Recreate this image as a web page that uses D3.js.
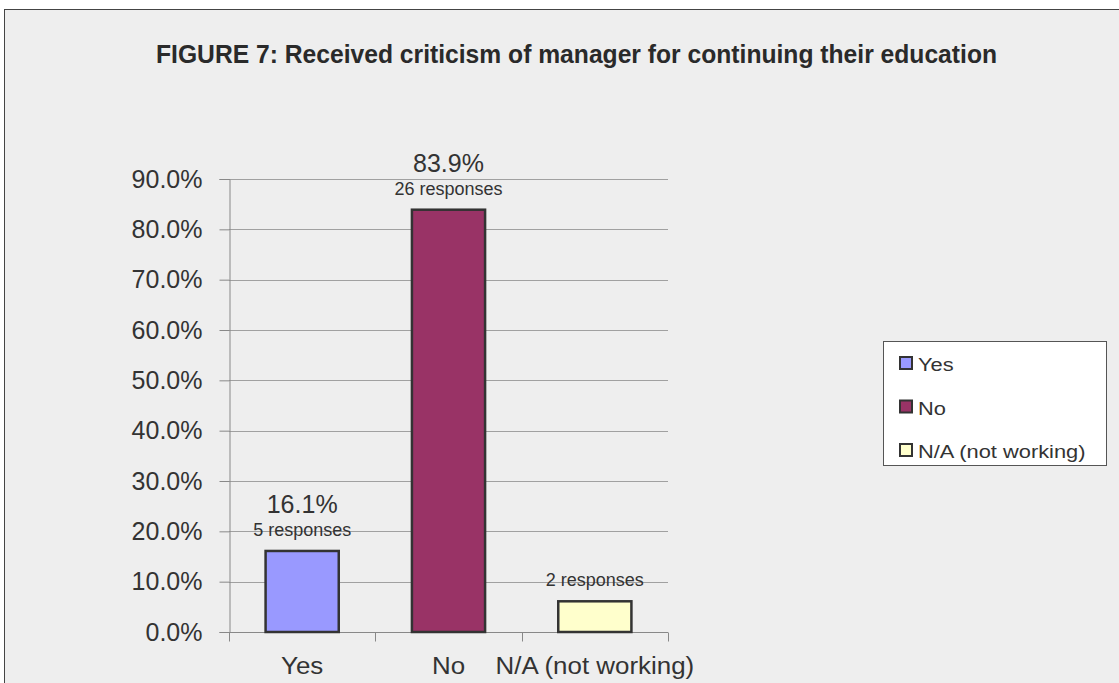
<!DOCTYPE html>
<html>
<head>
<meta charset="utf-8">
<script src="https://cdn.jsdelivr.net/npm/d3@7"></script>
<style>
  html, body { margin: 0; padding: 0; background: #fff; }
  svg { display: block; font-family: "Liberation Sans", Arial, sans-serif; }
</style>
</head>
<body>
<svg id="chart" width="1119" height="683"></svg>
<script>
// Survey answers: share of respondents and response counts
const categories = ["Yes", "No", "N/A (not working)"];
const percentValues = [16.1, 83.9, 6.1];
const percentLabels = ["16.1%", "83.9%", null];
const responseLabels = ["5 responses", "26 responses", "2 responses"];
const barColors = ["#9999ff", "#993366", "#ffffcc"];
const yTicks = [0, 10, 20, 30, 40, 50, 60, 70, 80, 90];
const title = "FIGURE 7: Received criticism of manager for continuing their education";

const svg = d3.select("#chart");
const textColor = "#333";

// chart frame
svg.append("rect")
  .attr("x", 4.5).attr("y", 9.5)
  .attr("width", 1130).attr("height", 690)
  .attr("fill", "#eeeeee")
  .attr("stroke", "#444").attr("stroke-width", 1);

svg.append("text")
  .attr("x", 576.5).attr("y", 63)
  .attr("text-anchor", "middle")
  .attr("font-size", 26)
  .attr("font-weight", "bold")
  .attr("textLength", 841)
  .attr("lengthAdjust", "spacingAndGlyphs")
  .attr("fill", "#2a2a2a")
  .text(title);

const plot = { left: 229, right: 668, top: 179, bottom: 632 };

const x = d3.scaleBand()
  .domain(categories)
  .range([plot.left, plot.right])
  .paddingInner(0.5)
  .paddingOuter(0.25);

const xEdges = d3.scaleBand().domain(categories).range([plot.left, plot.right]);

const y = d3.scaleLinear().domain([0, 90]).range([plot.bottom, plot.top]);

// horizontal gridlines
svg.append("g")
  .selectAll("line")
  .data(yTicks.slice(1))
  .join("line")
  .attr("x1", plot.left).attr("x2", plot.right)
  .attr("y1", d => Math.round(y(d)) + 0.5).attr("y2", d => Math.round(y(d)) + 0.5)
  .attr("stroke", "#a0a0a0").attr("stroke-width", 1);

// y axis
const yAxis = svg.append("g")
  .attr("transform", `translate(${plot.left + 0.5},0)`)
  .call(d3.axisLeft(y).tickValues(yTicks).tickFormat(d => d.toFixed(1) + "%").tickSize(10).tickPadding(17));
yAxis.select(".domain").attr("stroke", "#888");
yAxis.selectAll(".tick line").attr("stroke", "#888");
yAxis.selectAll(".tick text")
  .attr("font-size", 25).attr("fill", textColor)
  .attr("font-family", "'Liberation Sans', Arial, sans-serif");

// x axis with ticks between categories
const xAxisG = svg.append("g").attr("transform", `translate(0,${Math.round(plot.bottom) + 0.5})`);
xAxisG.append("line")
  .attr("x1", plot.left).attr("x2", plot.right)
  .attr("stroke", "#888");
const edges = categories.map(c => xEdges(c)).concat([plot.right]);
xAxisG.selectAll("line.tk")
  .data(edges)
  .join("line").attr("class", "tk")
  .attr("x1", d => Math.round(d) + 0.5).attr("x2", d => Math.round(d) + 0.5)
  .attr("y1", 0).attr("y2", 9)
  .attr("stroke", "#888");
xAxisG.selectAll("text")
  .data(categories)
  .join("text")
  .attr("transform", d => `translate(${x(d) + x.bandwidth() / 2},41) scale(1.08,1)`)
  .attr("text-anchor", "middle")
  .attr("font-size", 24).attr("fill", textColor)
  .text(d => d);

// bars
svg.append("g")
  .selectAll("rect")
  .data(categories)
  .join("rect")
  .attr("x", d => x(d))
  .attr("y", (d, i) => y(percentValues[i]))
  .attr("width", x.bandwidth())
  .attr("height", (d, i) => y(0) - y(percentValues[i]))
  .attr("fill", (d, i) => barColors[i])
  .attr("stroke", "#333").attr("stroke-width", 2.5);

// value labels above each bar
const labels = svg.append("g");
categories.forEach((c, i) => {
  const cx = x(c) + x.bandwidth() / 2;
  const top = y(percentValues[i]);
  labels.append("text")
    .attr("x", cx).attr("y", top - 15)
    .attr("text-anchor", "middle")
    .attr("font-size", 18).attr("fill", textColor)
    .text(responseLabels[i]);
  if (percentLabels[i]) {
    labels.append("text")
      .attr("x", cx).attr("y", top - 38)
      .attr("text-anchor", "middle")
      .attr("font-size", 25).attr("fill", textColor)
      .text(percentLabels[i]);
  }
});

// legend
const legend = svg.append("g").attr("transform", "translate(883.5,341.5)");
legend.append("rect")
  .attr("width", 223).attr("height", 124)
  .attr("fill", "#fff").attr("stroke", "#555");
const items = legend.selectAll("g.item")
  .data(categories)
  .join("g").attr("class", "item")
  .attr("transform", (d, i) => `translate(0,${22 + i * 43.5})`);
items.append("rect")
  .attr("x", 16.5).attr("y", -6.5)
  .attr("width", 12).attr("height", 12)
  .attr("fill", (d, i) => barColors[i])
  .attr("stroke", "#333").attr("stroke-width", 2);
items.append("text")
  .attr("transform", "translate(34.5,7.5) scale(1.15,1)")
  .attr("font-size", 19).attr("fill", textColor)
  .text(d => d);
</script>
</body>
</html>
